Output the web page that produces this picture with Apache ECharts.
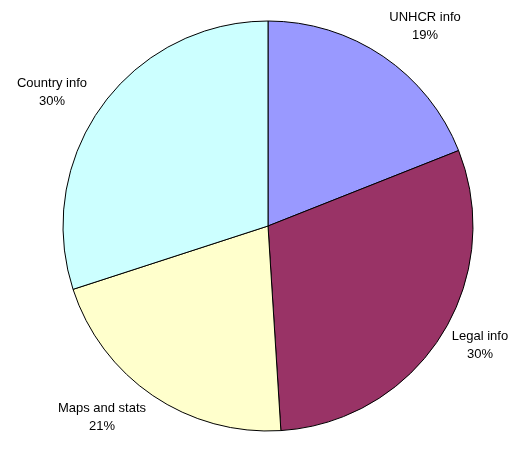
<!DOCTYPE html>
<html>
<head>
<meta charset="utf-8">
<script src="https://cdn.jsdelivr.net/npm/echarts@6/dist/echarts.min.js"></script>
<style>
  html, body { margin: 0; padding: 0; background: #ffffff; }
  #chart { width: 520px; height: 450px; }
</style>
</head>
<body>
<div id="chart"></div>
<script>
// Share of requests by information type
const categories = ['UNHCR info', 'Legal info', 'Maps and stats', 'Country info'];
const shares = [19, 30, 21, 30];
const sliceColors = ['#9999FF', '#993366', '#FFFFCC', '#CCFFFF'];

// Pie geometry and where each two-line label block is centred
const CX = 268, CY = 226, R = 205;
const labelCenters = [[425, 26], [480, 345], [102, 417], [52, 92]];

const chart = echarts.init(document.getElementById('chart'), null, { renderer: 'canvas' });
chart.setOption({
  animation: false,
  series: [{
    type: 'pie',
    center: [CX, CY],
    radius: [0, R],
    startAngle: 90,
    clockwise: true,
    data: categories.map((name, i) => ({
      name: name,
      value: shares[i],
      itemStyle: { color: sliceColors[i] }
    })),
    itemStyle: { borderColor: '#000000', borderWidth: 1 },
    label: {
      show: true,
      position: 'outside',
      alignTo: 'none',
      overflow: 'none',
      formatter: p => p.name + '\n' + p.value + '%',
      fontFamily: 'Liberation Sans, Arial, sans-serif',
      fontSize: 13,
      lineHeight: 18,
      color: '#000000',
      align: 'center'
    },
    labelLine: { show: false },
    labelLayout: params => {
      const c = labelCenters[params.dataIndex];
      return { x: c[0], y: c[1], align: 'center', verticalAlign: 'middle' };
    },
    emphasis: { disabled: true }
  }]
});
</script>
</body>
</html>
